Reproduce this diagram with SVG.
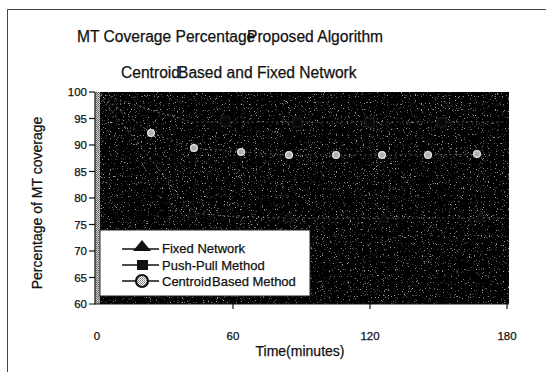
<svg xmlns="http://www.w3.org/2000/svg" width="546" height="372" viewBox="0 0 546 372">
  <style>
    text { font-family: "Liberation Sans", Arial, sans-serif; fill: #111; stroke: #111; stroke-width: 0.25; }
    .title { font-size: 15.6px; }
    .tick { font-size: 11.5px; }
    .axis-title { font-size: 14px; }
    .legend-text { font-size: 13px; }
    .axis { stroke: #111; stroke-width: 1.2; fill: none; }
    .series { fill: none; stroke: #8a8a8a; stroke-width: 1.2; stroke-dasharray: 2 3; opacity: 0.6; }
    .tri { fill: #080808; stroke: #2a2a2a; stroke-width: 0.8; }
    .sq { fill: #080808; stroke: #2a2a2a; stroke-width: 0.8; }
    .circ { fill: #b0b0b0; stroke: #e0e0e0; stroke-width: 1.3; }
    .leg-line { stroke: #111; stroke-width: 1.6; }
  </style>
  <defs>
    <!-- fine speckle laid over the dark plot area -->
    <filter id="grain" x="0" y="0" width="100%" height="100%" color-interpolation-filters="sRGB">
      <feTurbulence type="fractalNoise" baseFrequency="0.85" numOctaves="2" seed="7" result="n"/>
      <feColorMatrix in="n" type="matrix" values="0 0 0 0 1  0 0 0 0 1  0 0 0 0 1  7 0 0 0 -4.4"/>
    </filter>
    <pattern id="dots" width="2" height="2" patternUnits="userSpaceOnUse">
      <rect width="2" height="2" fill="#fff"/>
      <rect width="1" height="1" fill="#777"/>
      <rect x="1" y="1" width="1" height="1" fill="#999"/>
    </pattern>
  </defs>

  <rect width="546" height="372" fill="#fff"/>

  <!-- outer chart frame -->
  <path d="M7.5,372 V9.5 H546" fill="none" stroke="#444" stroke-width="1"/>

  <!-- titles -->
  <g id="title">
    <text class="title" x="77" y="42">MT Coverage Percentage</text>
    <text class="title" x="247" y="42">Proposed Algorithm</text>
    <text class="title" x="121" y="78">Centroid</text>
    <text class="title" x="178" y="78">Based and Fixed Network</text>
  </g>

  <!-- plot area -->
  <g id="plot-area">
    <rect x="95" y="92" width="414" height="212" fill="#000"/>
    <rect x="95" y="92" width="414" height="212" fill="#000" filter="url(#grain)" opacity="0.65"/>
    <rect x="95" y="92" width="5" height="212" fill="url(#dots)" opacity="0.8"/>
  </g>

  <!-- axes and ticks -->
  <g id="axes">
    <line class="axis" x1="95" y1="92" x2="95" y2="304.5"/>
    <line class="axis" x1="89" y1="304" x2="509" y2="304"/>
    <g stroke="#111" stroke-width="1.2">
      <line x1="89" y1="92" x2="95" y2="92"/>
      <line x1="89" y1="118.5" x2="95" y2="118.5"/>
      <line x1="89" y1="145" x2="95" y2="145"/>
      <line x1="89" y1="171.5" x2="95" y2="171.5"/>
      <line x1="89" y1="198" x2="95" y2="198"/>
      <line x1="89" y1="224.5" x2="95" y2="224.5"/>
      <line x1="89" y1="251" x2="95" y2="251"/>
      <line x1="89" y1="277.5" x2="95" y2="277.5"/>
      <line x1="233" y1="304" x2="233" y2="309"/>
      <line x1="370" y1="304" x2="370" y2="309"/>
      <line x1="507" y1="304" x2="507" y2="309"/>
    </g>
    <g text-anchor="end">
      <text class="tick" x="87" y="96">100</text>
      <text class="tick" x="87" y="122.5">95</text>
      <text class="tick" x="87" y="149">90</text>
      <text class="tick" x="87" y="175.5">85</text>
      <text class="tick" x="87" y="202">80</text>
      <text class="tick" x="87" y="228.5">75</text>
      <text class="tick" x="87" y="255">70</text>
      <text class="tick" x="87" y="281.5">65</text>
      <text class="tick" x="87" y="308">60</text>
    </g>
    <g text-anchor="middle">
      <text class="tick" x="97" y="340">0</text>
      <text class="tick" x="233" y="340">60</text>
      <text class="tick" x="370" y="340">120</text>
      <text class="tick" x="507" y="340">180</text>
    </g>
    <text class="axis-title" x="300" y="356" text-anchor="middle">Time(minutes)</text>
    <text class="axis-title" transform="translate(42,203) rotate(-90)" text-anchor="middle">Percentage of MT coverage</text>
  </g>

  <!-- data series -->
  <g id="connectors">
    <polyline class="series" points="96,92 144,150 192,213 240,217 288,218 336,218 384,218 432,218 480,218 507,218"/>
    <polyline class="series" points="96,92 144,108 192,122 240,122 288,122 336,122 384,122 432,122 480,122 507,122"/>
    <polyline class="series" points="96,92 151,133 194,148 241,152 289,155 336,155 382,155 428,155 477,154"/>
  </g>

  <g id="series-fixed-network">
    <polygon class="tri" points="192,208 187,217 197,217"/>
    <polygon class="tri" points="288,213 283,222 293,222"/>
    <polygon class="tri" points="384,213 379,222 389,222"/>
    <polygon class="tri" points="480,213 475,222 485,222"/>
  </g>
  <g id="series-push-pull">
    <rect class="sq" x="221" y="117" width="9" height="9"/>
    <rect class="sq" x="293" y="118" width="9" height="9"/>
    <rect class="sq" x="365" y="118" width="9" height="9"/>
    <rect class="sq" x="437" y="118" width="9" height="9"/>
  </g>
  <g id="series-centroid">
    <circle class="circ" cx="151" cy="133" r="3.4"/>
    <circle class="circ" cx="194" cy="148" r="3.4"/>
    <circle class="circ" cx="241" cy="152" r="3.4"/>
    <circle class="circ" cx="289" cy="155" r="3.4"/>
    <circle class="circ" cx="336" cy="155" r="3.4"/>
    <circle class="circ" cx="382" cy="155" r="3.4"/>
    <circle class="circ" cx="428" cy="155" r="3.4"/>
    <circle class="circ" cx="477" cy="154" r="3.4"/>
  </g>

  <!-- legend -->
  <g id="legend">
    <rect x="100" y="230" width="210" height="66" fill="#fff" stroke="#222" stroke-width="1"/>
    <line class="leg-line" x1="122" y1="249" x2="159" y2="249"/>
    <polygon points="142,240 133,251 151,251" fill="#111"/>
    <text class="legend-text" x="162" y="253">Fixed Network</text>
    <line class="leg-line" x1="122" y1="265" x2="159" y2="265"/>
    <rect x="137" y="260" width="11" height="10" fill="#111"/>
    <text class="legend-text" x="162" y="269.5">Push-Pull Method</text>
    <line class="leg-line" x1="122" y1="281" x2="159" y2="281"/>
    <circle cx="142" cy="281" r="6" fill="url(#dots)" stroke="#111" stroke-width="2.2"/>
    <text class="legend-text" x="162" y="286">Centroid</text>
    <text class="legend-text" x="212" y="286">Based Method</text>
  </g>
</svg>
